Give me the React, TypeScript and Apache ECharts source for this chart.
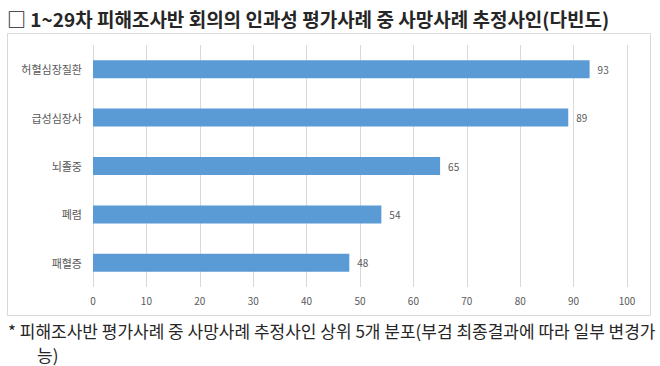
import React, { useEffect, useRef } from "react";
import * as echarts from "echarts";

const categories = ["허혈심장질환", "급성심장사", "뇌졸중", "폐렴", "패혈증"];
const values = [93, 89, 65, 54, 48];
const xTicks = [0, 10, 20, 30, 40, 50, 60, 70, 80, 90, 100];

const titleText = "□ 1~29차 피해조사반 회의의 인과성 평가사례 중 사망사례 추정사인(다빈도)";
const noteLine1 = "* 피해조사반 평가사례 중 사망사례 추정사인 상위 5개 분포(부검 최종결과에 따라 일부 변경가";
const noteLine2 = "능)";

export default function App() {
  const ref = useRef<HTMLDivElement>(null);
  useEffect(() => {
    if (!ref.current) return;
    const chart = echarts.init(ref.current, null, { renderer: "svg" });
    const font = "'Noto Sans CJK KR', 'Noto Sans', sans-serif";
    chart.setOption({
      animation: false,
      backgroundColor: "#ffffff",
      grid: { left: 93, right: 33, top: 45, bottom: 79 },
      xAxis: {
        type: "value",
        min: xTicks[0],
        max: xTicks[xTicks.length - 1],
        interval: 10,
        axisLine: { show: false },
        axisTick: { show: false },
        splitLine: { show: true, lineStyle: { color: "#d9d9d9", width: 1 } },
        axisLabel: { color: "#595959", fontSize: 10, fontFamily: font, margin: 8 },
      },
      yAxis: {
        type: "category",
        data: categories,
        inverse: true,
        axisLine: { show: false },
        axisTick: { show: false },
        axisLabel: { color: "#595959", fontSize: 11, fontFamily: font, margin: 11 },
      },
      series: [
        {
          type: "bar",
          data: values,
          barWidth: 18,
          itemStyle: { color: "#5b9bd5" },
          label: {
            show: true,
            position: "right",
            distance: 8,
            color: "#595959",
            fontSize: 10,
            fontFamily: font,
          },
        },
      ],
      graphic: [
        {
          type: "rect",
          shape: { x: 7.5, y: 33.5, width: 643, height: 282 },
          style: { fill: "none", stroke: "#d9d9d9", lineWidth: 1 },
          silent: true,
        },
        {
          type: "text",
          x: 7,
          y: 18,
          style: {
            text: titleText,
            fontSize: 19,
            fontWeight: "bold",
            fontFamily: font,
            fill: "#262626",
            textVerticalAlign: "middle",
          },
        },
        {
          type: "text",
          x: 8,
          y: 330,
          style: {
            text: noteLine1,
            fontSize: 17,
            fontFamily: font,
            fill: "#262626",
            textVerticalAlign: "middle",
          },
        },
        {
          type: "text",
          x: 37,
          y: 354,
          style: {
            text: noteLine2,
            fontSize: 17,
            fontFamily: font,
            fill: "#262626",
            textVerticalAlign: "middle",
          },
        },
      ],
    });
    return () => chart.dispose();
  }, []);
  return (
    <div
      ref={ref}
      style={{ position: "absolute", left: 0, top: 0, width: 660, height: 366 }}
    />
  );
}
